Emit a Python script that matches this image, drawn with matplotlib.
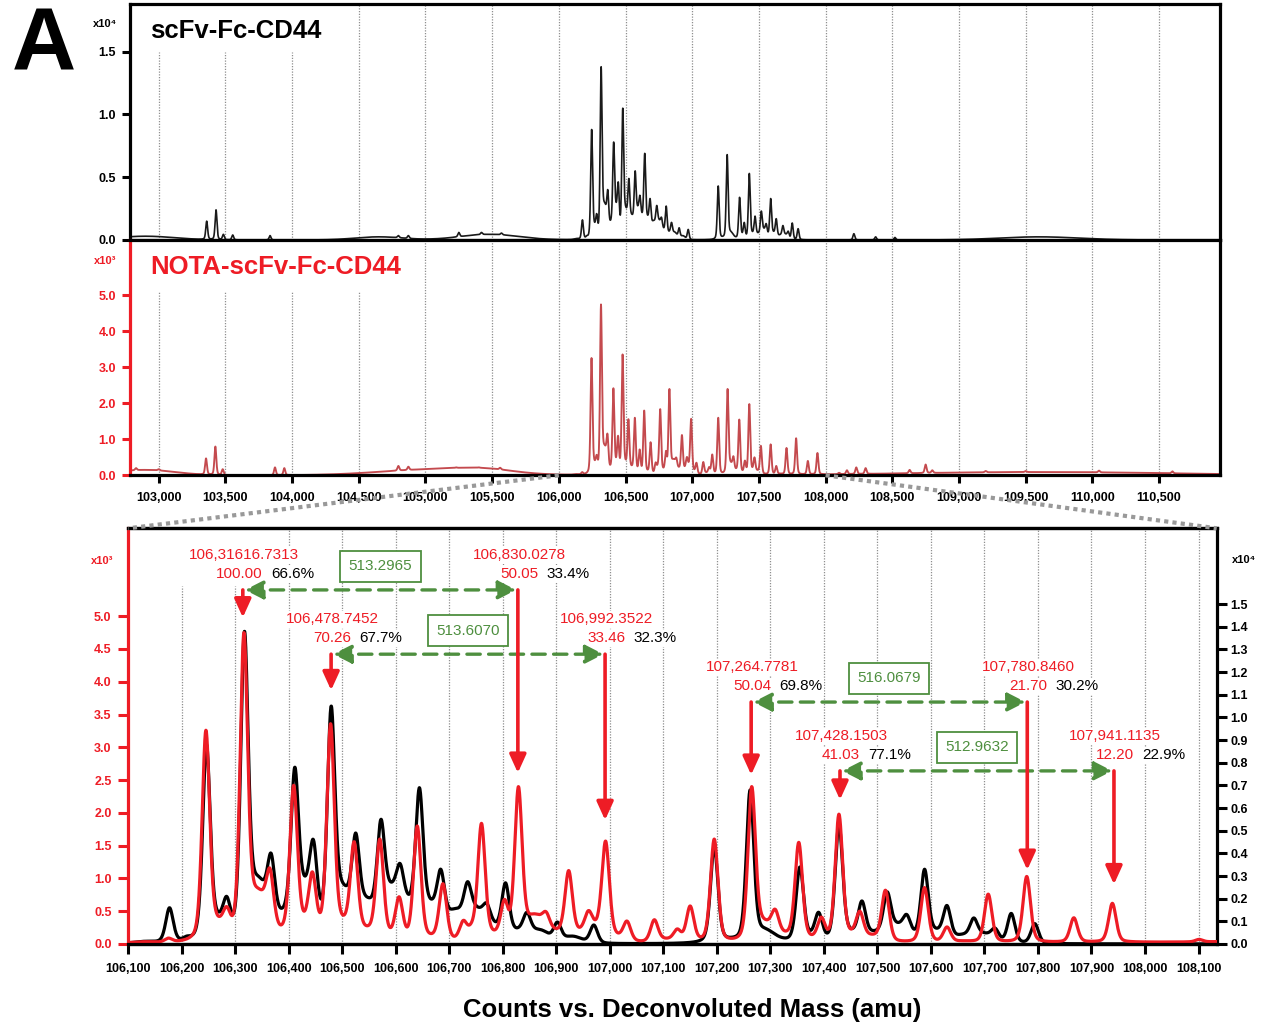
import numpy as np
import matplotlib
matplotlib.use("Agg")
import matplotlib.pyplot as plt
from matplotlib.patches import ConnectionPatch

plt.rcParams['font.family'] = ['Liberation Sans', 'DejaVu Sans']

RED = '#ee1c25'
GREEN = '#4e8f3f'
GRID = '#8f8f8f'

# ---- scFv-Fc-CD44 (black, counts x10^4) ----
# peak tops (mass, height)
blk_pk_c = [103360, 103430, 103485, 103555, 103835, 104797, 104872, 105250, 105420, 105570,
            106177, 106209, 106246, 106284, 106317, 106367, 106411, 106446, 106479, 106525,
            106572, 106608, 106644, 106684, 106734, 106770, 106805, 106845, 106902, 106970,
            107195, 107262, 107355, 107390, 107428, 107471, 107518, 107555, 107588, 107630,
            107680, 107720, 107750, 107794, 108212, 108375, 108520]
blk_pk_h = [0.15, 0.24, 0.045, 0.04, 0.035, 0.035, 0.035, 0.06, 0.06, 0.055,
            0.16, 0.035, 0.88, 0.21, 1.38, 0.40, 0.78, 0.46, 1.05, 0.49,
            0.55, 0.355, 0.69, 0.33, 0.275, 0.18, 0.27, 0.14, 0.097, 0.084,
            0.43, 0.68, 0.34, 0.14, 0.53, 0.19, 0.23, 0.13, 0.33, 0.17,
            0.115, 0.07, 0.135, 0.09, 0.05, 0.025, 0.02]
# valley bottoms between peaks (mass, height)
blk_fl_c = [106130, 106160, 106265, 106300, 106343, 106390, 106430, 106465, 106500, 106545,
            106590, 106625, 106665, 106710, 106750, 106785, 106830, 106870, 106930, 107228,
            107290, 107320, 107375, 107410, 107450, 107495, 107537, 107570, 107610, 107660,
            107700]
blk_fl_h = [0.012, 0.012, 0.156, 0.165, 0.30, 0.165, 0.30, 0.26, 0.275, 0.21,
            0.275, 0.22, 0.20, 0.156, 0.17, 0.10, 0.075, 0.064, 0.035, 0.03,
            0.07, 0.03, 0.06, 0.06, 0.07, 0.06, 0.096, 0.066, 0.07, 0.045,
            0.05]
# low broad background humps (centre, height, width)
blk_hp_c = [102900, 104650, 105480, 109600]
blk_hp_h = [0.03, 0.025, 0.045, 0.025]
blk_hp_s = [220, 180, 220, 300]

# ---- NOTA-scFv-Fc-CD44 (red, counts x10^3) ----
red_pk_c = [102830, 103000, 103355, 103425, 103480, 103872, 103942, 104797, 104872, 105230,
            105400, 105560, 106175, 106245, 106284, 106316, 106365, 106409, 106444, 106478,
            106522, 106570, 106606, 106640, 106688, 106726, 106742, 106760, 106803, 106829,
            106881, 106923, 106960, 106992, 107032, 107083, 107126, 107150, 107195, 107265,
            107309, 107353, 107395, 107428, 107467, 107515, 107588, 107630, 107707, 107779,
            107867, 107939, 108101, 108160, 108230, 108300, 108630, 108750, 108800, 109200,
            109500, 110050, 110600]
red_pk_h = [0.2, 0.17, 0.47, 0.80, 0.17, 0.22, 0.20, 0.26, 0.24, 0.22,
            0.22, 0.21, 0.09, 3.26, 0.57, 4.75, 1.15, 2.42, 1.10, 3.36,
            1.56, 1.60, 0.72, 1.80, 0.92, 0.36, 0.34, 1.84, 0.68, 2.40,
            0.49, 1.12, 0.51, 1.57, 0.35, 0.37, 0.23, 0.58, 1.60, 2.40,
            0.53, 1.55, 0.41, 1.98, 0.50, 0.82, 0.86, 0.26, 0.76, 1.03,
            0.40, 0.62, 0.07, 0.14, 0.22, 0.20, 0.15, 0.30, 0.14, 0.12,
            0.12, 0.13, 0.11]
red_fl_c = [106130, 106160, 106265, 106300, 106343, 106390, 106425, 106460, 106500, 106545,
            106590, 106622, 106665, 106705, 106782, 106860, 106902, 106945, 106975, 107015,
            107060, 107105, 107287, 107330, 107375, 107410, 107450, 107490, 107535, 107660]
red_fl_h = [0.035, 0.035, 0.47, 0.49, 0.85, 0.34, 0.57, 0.50, 0.45, 0.28,
            0.25, 0.23, 0.16, 0.10, 0.22, 0.46, 0.24, 0.26, 0.39, 0.17,
            0.05, 0.09, 0.40, 0.20, 0.15, 0.23, 0.23, 0.15, 0.05, 0.05]
red_hp_c = [102900, 105100, 105450, 109600]
red_hp_h = [0.15, 0.17, 0.08, 0.09]
red_hp_s = [220, 420, 200, 1000]

# ---- annotations ----
ann_mass = [106314, 106479, 106828, 106991, 107264, 107430, 107780, 107942]
ann_name = ['106,31616.7313', '106,478.7452', '106,830.0278', '106,992.3522',
            '107,264.7781', '107,428.1503', '107,780.8460', '107,941.1135']
ann_rel = ['100.00', '70.26', '50.05', '33.46', '50.04', '41.03', '21.70', '12.20']
ann_pct = ['66.6%', '67.7%', '33.4%', '32.3%', '69.8%', '77.1%', '30.2%', '22.9%']
ann_top = [5.40, 4.42, 5.40, 4.42, 3.69, 2.64, 3.69, 2.64]
ann_tip = [4.98, 3.87, 2.61, 1.89, 2.58, 2.20, 1.13, 0.91]
pair_left = [0, 1, 4, 5]
pair_right = [2, 3, 6, 7]
pair_diff = ['513.2965', '513.6070', '516.0679', '512.9632']


def peak_shape(d, w=16.5, eta=0.35):
    g = np.exp(-4 * np.log(2) * d ** 2 / w ** 2)
    lor = 1.0 / (1 + 4 * d ** 2 / w ** 2)
    return (1 - eta) * g + eta * lor


def spectrum(m, pk_c, pk_h, fl_c, fl_h, hp_c, hp_h, hp_s):
    pk_c, pk_h = np.array(pk_c, float), np.array(pk_h, float)
    fl_c, fl_h = np.array(fl_c, float), np.array(fl_h, float)
    hp_c, hp_h, hp_s = np.array(hp_c, float), np.array(hp_h, float), np.array(hp_s, float)

    def model(x, a_pk, a_fl):
        x = np.asarray(x, float)[:, None]
        y = (a_fl * np.exp(-(x - fl_c) ** 2 / (2 * 17.0 ** 2))).sum(1)
        y += (hp_h * np.exp(-(x - hp_c) ** 2 / (2 * hp_s ** 2))).sum(1)
        y += (a_pk * peak_shape(x - pk_c)).sum(1)
        return y

    # scale the components so the curve passes through the read tops and valleys
    a_pk, a_fl = pk_h.copy(), fl_h.copy()
    for _ in range(80):
        a_pk = np.clip(a_pk + 0.5 * (pk_h - model(pk_c, a_pk, a_fl)), 0, None)
        a_fl = np.clip(a_fl + 0.5 * (fl_h - model(fl_c, a_pk, a_fl)), 0, None)
    return model(m, a_pk, a_fl)


mass = np.arange(102785, 110957, 0.5)
blk = spectrum(mass, blk_pk_c, blk_pk_h, blk_fl_c, blk_fl_h, blk_hp_c, blk_hp_h, blk_hp_s)
red = spectrum(mass, red_pk_c, red_pk_h, red_fl_c, red_fl_h, red_hp_c, red_hp_h, red_hp_s)

W, H = 1267, 1027
fig = plt.figure(figsize=(W / 100, H / 100), dpi=100)
ax1 = fig.add_axes([130 / W, 1 - 240 / H, 1090 / W, 236 / H])
ax2 = fig.add_axes([130 / W, 1 - 475.3 / H, 1090 / W, 235.3 / H])
ax3 = fig.add_axes([128.3 / W, 1 - 944 / H, 1088.4 / W, 415.7 / H])
ax3r = ax3.twinx()
ax3r.set_zorder(ax3.get_zorder() - 1)
ax3.patch.set_visible(False)

SPW = 2.3
grid_x = np.arange(103000, 110501, 500)

# top overview
ax1.plot(mass, blk, color='#1a1a1a', lw=1.2)
ax1.set_xlim(102785, 110957)
ax1.set_ylim(0, 1.88)
ax1.vlines(grid_x, 0, np.where(grid_x <= 104000, 1.5, 1.88), color=GRID, lw=0.9,
           linestyle=(0, (1, 1.2)), zorder=0)
ax1.set_xticks([])
ax1.set_yticks([0, 0.5, 1.0, 1.5], ['0.0', '0.5', '1.0', '1.5'], fontweight='bold')
ax1.text(20 / 1090, 0.885, 'scFv-Fc-CD44', transform=ax1.transAxes, fontsize=18.5,
         fontweight='bold', va='center')

# middle overview
ax2.plot(mass, red, color='#c44a4e', lw=1.35)
ax2.set_xlim(102785, 110957)
ax2.set_ylim(0, 6.54)
ax2.vlines(grid_x, 0, np.where(grid_x <= 104500, 5.1, 6.54), color=GRID, lw=0.9,
           linestyle=(0, (1, 1.2)), zorder=0)
ax2.set_xticks(grid_x, [f'{v:,}' for v in grid_x], fontweight='bold')
ax2.set_yticks(np.arange(0, 5.1, 1.0), [f'{v:.1f}' for v in np.arange(0, 5.1, 1.0)],
               fontweight='bold', color=RED)
ax2.text(20 / 1090, 0.885, 'NOTA-scFv-Fc-CD44', transform=ax2.transAxes, fontsize=18.5,
         fontweight='bold', va='center', color=RED)

for ax in (ax1, ax2):
    for s in ax.spines.values():
        s.set_linewidth(SPW)
        s.set_color('black')
    ax.tick_params(axis='y', length=6, width=2.2, pad=4, labelsize=9)
    ax.tick_params(axis='x', length=6, width=2.2, pad=6, labelsize=9)
ax2.spines['left'].set_color(RED)
ax2.tick_params(axis='y', colors=RED)

fig.text(105 / W, 1 - 24 / H, 'x10⁴', ha='center', va='center', fontsize=8, fontweight='bold')
fig.text(105 / W, 1 - 261 / H, 'x10³', ha='center', va='center', fontsize=8,
         fontweight='bold', color=RED)

# bottom zoom
ax3r.plot(mass, blk, color='black', lw=2.3)
ax3.plot(mass, red, color=RED, lw=2.3)
ax3.set_xlim(106100, 108134)
ax3.set_ylim(0, 6.34)
ax3r.set_ylim(0, 1.835)
for gx in np.arange(106200, 108101, 100):
    ax3r.axvline(gx, ymax=0.86 if gx <= 106300 else 1, color=GRID, lw=0.9,
                 linestyle=(0, (1, 1.2)), zorder=0)

bx = np.arange(106100, 108101, 100)
ax3.set_xticks(bx, [f'{v:,}' for v in bx], fontweight='bold')
ly = np.arange(0, 5.01, 0.5)
ax3.set_yticks(ly, [f'{v:.1f}' for v in ly], fontweight='bold', color=RED)
ry = np.arange(0, 1.51, 0.1)
ax3r.set_yticks(ry, [f'{v:.1f}' for v in ry], fontweight='bold')
ax3.tick_params(axis='x', length=7, width=2.2, pad=7, labelsize=9)
ax3.tick_params(axis='y', length=7, width=2.2, pad=5, labelsize=9, colors=RED)
ax3r.tick_params(axis='y', length=7, width=2.2, pad=3, labelsize=9)
for s in list(ax3.spines.values()) + list(ax3r.spines.values()):
    s.set_linewidth(SPW)
    s.set_color('black')
ax3.spines['left'].set_color(RED)
ax3.spines['right'].set_visible(False)
ax3r.spines['left'].set_visible(False)

fig.text(102 / W, 1 - 561 / H, 'x10³', ha='center', va='center', fontsize=8,
         fontweight='bold', color=RED)
fig.text(1244 / W, 1 - 560 / H, 'x10⁴', ha='center', va='center', fontsize=8,
         fontweight='bold')

# annotations
wb = dict(fc='white', ec='none', pad=1)
for i, mval in enumerate(ann_mass):
    top = ann_top[i]
    ax3.annotate('', xy=(mval, ann_tip[i]), xytext=(mval, top),
                 arrowprops=dict(arrowstyle='-|>,head_length=0.55,head_width=0.25', color=RED,
                                 lw=2.6, shrinkA=0, shrinkB=0, mutation_scale=20), zorder=6)
    ax3.annotate(ann_name[i], xy=(mval, top + 0.53), xytext=(1, 0), textcoords='offset points',
                 ha='center', va='center', color=RED, fontsize=11, bbox=wb, zorder=5)
    ax3.annotate(ann_rel[i], xy=(mval, top + 0.24), xytext=(14.5, 0), textcoords='offset points',
                 ha='right', va='center', color=RED, fontsize=11, bbox=wb, zorder=5)
    ax3.annotate(ann_pct[i], xy=(mval, top + 0.24), xytext=(20.5, 0), textcoords='offset points',
                 ha='left', va='center', color='black', fontsize=11, bbox=wb, zorder=5)

for a, b, d in zip(pair_left, pair_right, pair_diff):
    y = ann_top[a]
    x0, x1 = ann_mass[a], ann_mass[b]
    ax3.annotate('', xy=(x1 - 3, y), xytext=(x0 + 4, y),
                 arrowprops=dict(arrowstyle='<|-|>,head_length=0.55,head_width=0.28', color=GREEN,
                                 lw=2.4, linestyle=(0, (4, 2.5)), shrinkA=0, shrinkB=0,
                                 mutation_scale=20), zorder=5)
    ax3.text((x0 + x1) / 2, y + 0.36, d, ha='center', va='center', color=GREEN, fontsize=11,
             bbox=dict(boxstyle='square,pad=0.55', fc='white', ec=GREEN, lw=1.3), zorder=7)

# zoom connectors
for xa, xb in ((106000, 0), (108000, 1)):
    con = ConnectionPatch(xyA=(xa, 0), coordsA=ax2.transData, xyB=(xb, 1), coordsB=ax3.transAxes,
                          color='#999999', lw=3, linestyle=(0, (1, 1)), capstyle='butt')
    fig.add_artist(con)

fig.text(12 / W, 1 - 70 / H, 'A', fontsize=64, fontweight='bold', ha='left', va='baseline')
fig.text(692 / W, 1 - 1010 / H, 'Counts vs. Deconvoluted Mass (amu)', ha='center', va='center',
         fontsize=18.5, fontweight='bold')

fig.savefig('out.png', dpi=100)
